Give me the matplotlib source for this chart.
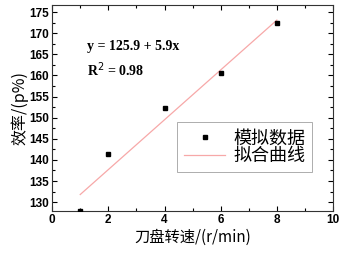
import matplotlib
matplotlib.use("Agg")
import matplotlib.pyplot as plt
import numpy as np
from matplotlib.ticker import MultipleLocator

# data
speed = [1, 2, 4, 6, 8]
efficiency = [128.0, 141.3, 152.2, 160.5, 172.4]
fit_x = [1, 8]
intercept, slope = 125.9, 5.9

plt.rcParams['font.family'] = ['Liberation Sans', 'Noto Sans CJK SC']
cjk = ["Noto Sans CJK SC", "DejaVu Sans"]

fig = plt.figure(figsize=(3.43, 2.57), dpi=100)
ax = fig.add_axes([0.152, 0.179, 0.819, 0.802])

fx = np.array(fit_x)
ax.plot(fx, intercept + slope * fx, color="#f7a8a8", lw=0.9, label="拟合曲线", zorder=2)
ax.plot(speed, efficiency, ls="none", marker="s", ms=3.5, color="black",
        label="模拟数据", zorder=3)

ax.set_xlim(0, 10)
ax.set_ylim(127.9, 176.7)
ax.xaxis.set_major_locator(MultipleLocator(2))
ax.xaxis.set_minor_locator(MultipleLocator(1))
ax.yaxis.set_major_locator(MultipleLocator(5))
ax.yaxis.set_minor_locator(MultipleLocator(2.5))
ax.tick_params(which="both", direction="in", top=True, right=True, width=0.8)
ax.tick_params(which="major", length=3.5, labelsize=8.5, pad=2)
ax.tick_params(which="minor", length=2)
for lab in ax.get_xticklabels() + ax.get_yticklabels():
    lab.set_fontweight("bold")
for sp in ax.spines.values():
    sp.set_linewidth(0.8)
    sp.set_color("#333333")

ax.set_xlabel("刀盘转速/(r/min)", fontsize=11, family=cjk, labelpad=2)
ax.set_ylabel("效率/(p%)", fontsize=11.5, family=cjk, labelpad=1)

ax.text(1.25, 166.9, "y = 125.9 + 5.9x", fontsize=10, family="Liberation Serif",
        fontweight="bold", va="center")
ax.text(1.25, 161.3, r"R$^2$ = 0.98", fontsize=10, family="Liberation Serif",
        fontweight="bold", va="center")

handles, labels = ax.get_legend_handles_labels()
leg = ax.legend(handles[::-1], labels[::-1], loc="upper left",
                bbox_to_anchor=(0.445, 0.432), frameon=True, fancybox=False,
                prop={"family": cjk, "size": 13},
                handlelength=2.25, borderpad=0.4, labelspacing=0.0, handletextpad=0.45,
                borderaxespad=0)
leg.get_frame().set_edgecolor("#888888")
leg.get_frame().set_linewidth(0.6)

fig.savefig("out.png", dpi=100)
